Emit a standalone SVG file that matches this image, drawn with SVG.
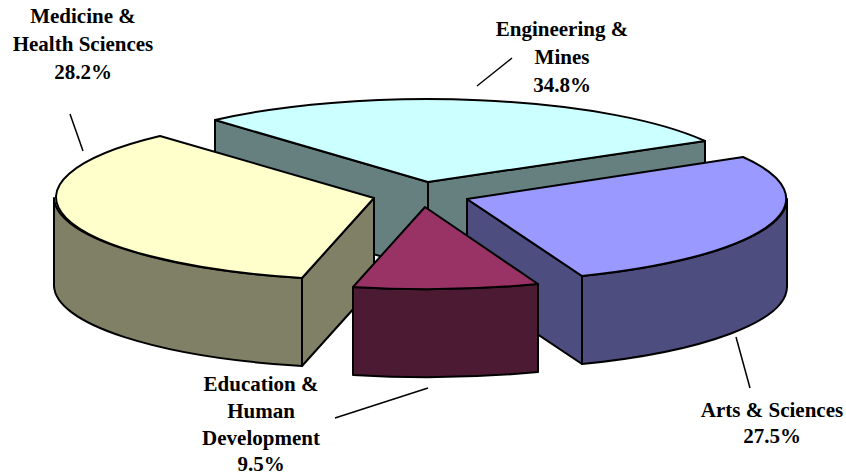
<svg xmlns="http://www.w3.org/2000/svg" width="846" height="476" viewBox="0 0 846 476">
<style>
.e{stroke:#000;stroke-width:2;stroke-linejoin:round}
.lbl{font-weight:bold;font-size:21px;text-anchor:middle;fill:#000}
.ld{stroke:#000;stroke-width:1.5;fill:none}
</style>
<rect width="846" height="476" fill="#fff"/>
<g id="engineering">
<path class="e" fill="#668080" d="M215,120 L428,182 L428,270 L215,208 Z"/>
<path class="e" fill="#668080" d="M428,182 L705,141 L705,229 L428,270 Z"/>
<path class="e" fill="#CCFFFF" d="M215,120 A320,83 0 0 1 705,141 L428,182 Z"/>
</g>
<g id="medicine">
<path class="e" fill="#808066" d="M302,278 L374,198 L374,286 L302,366 Z"/>
<path class="e" fill="#808066" d="M54,198 A320,83 0 0 0 302,278 L302,366 A320,83 0 0 1 54,286 Z"/>
<path class="e" fill="#FFFFCC" d="M160,136 A320,83 0 0 0 302,278 L374,198 Z"/>
</g>
<g id="arts">
<path class="e" fill="#4D4D80" d="M467,199 L582,276 L582,364 L467,287 Z"/>
<path class="e" fill="#4D4D80" d="M787,199 A320,83 0 0 1 582,276 L582,364 A320,83 0 0 0 787,287 Z"/>
<path class="e" fill="#9999FF" d="M467,199 L743,157 A320,83 0 0 1 582,276 Z"/>
</g>
<g id="education">
<path class="e" fill="#4D1A33" d="M538,284 A320,83 0 0 1 353,287 L353,375 A320,83 0 0 0 538,372 Z"/>
<path class="e" fill="#993366" d="M425,207 L538,284 A320,83 0 0 1 353,287 Z"/>
</g>
<g id="connectors">
<line class="ld" x1="70" y1="114" x2="83" y2="151"/>
<line class="ld" x1="477" y1="86" x2="512" y2="58"/>
<line class="ld" x1="736" y1="337" x2="750" y2="388"/>
<line class="ld" x1="335" y1="418" x2="428" y2="388"/>
</g>
<g id="labels" font-family="'Liberation Serif', 'Times New Roman', serif">
<text class="lbl" x="83" y="23">Medicine &amp;</text>
<text class="lbl" x="83" y="51">Health Sciences</text>
<text class="lbl" x="83" y="79">28.2%</text>
<text class="lbl" x="562" y="36">Engineering &amp;</text>
<text class="lbl" x="562" y="64">Mines</text>
<text class="lbl" x="562" y="92">34.8%</text>
<text class="lbl" x="772" y="417">Arts &amp; Sciences</text>
<text class="lbl" x="772" y="443">27.5%</text>
<text class="lbl" x="261" y="391">Education &amp;</text>
<text class="lbl" x="261" y="418">Human</text>
<text class="lbl" x="261" y="445">Development</text>
<text class="lbl" x="261" y="471">9.5%</text>
</g>
</svg>
